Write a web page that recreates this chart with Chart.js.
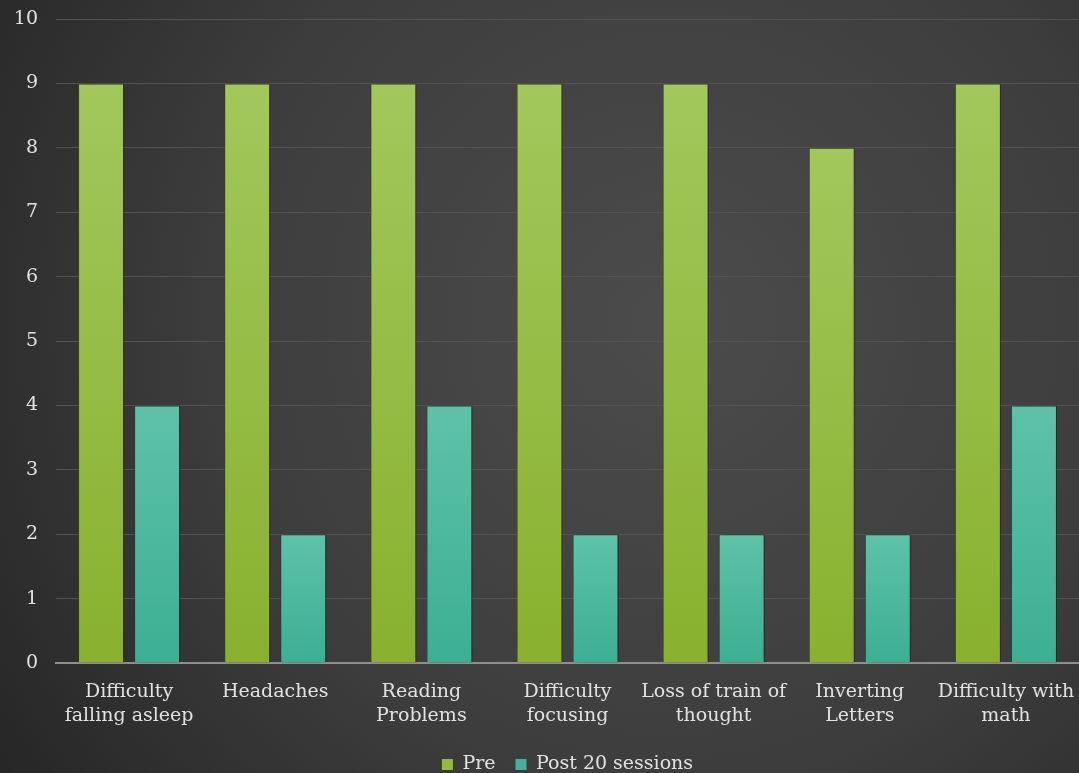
<!DOCTYPE html>
<html>
<head>
<meta charset="utf-8">
<script src="https://cdn.jsdelivr.net/npm/chart.js@4/dist/chart.umd.min.js"></script>
<style>
  html, body { margin: 0; padding: 0; background: #333; }
  #wrap { width: 1079px; height: 773px; position: relative; }
</style>
</head>
<body>
<div id="wrap"><canvas id="c" width="1079" height="773"></canvas></div>
<script>
const categories = [
  ["Difficulty", "falling asleep"],
  ["Headaches"],
  ["Reading", "Problems"],
  ["Difficulty", "focusing"],
  ["Loss of train of", "thought"],
  ["Inverting", "Letters"],
  ["Difficulty with", "math"]
];
const preValues = [9, 9, 9, 9, 9, 8, 9];
const postValues = [4, 2, 4, 2, 2, 2, 4];
const seriesNames = ["Pre", "Post 20 sessions"];
const yTicks = [0, 1, 2, 3, 4, 5, 6, 7, 8, 9, 10];

const FONT = "'DejaVu Serif', serif";
const TEXT = "#e2e2e2";

// vertical shading per bar: lighter cap, deeper base
function barGradient(ctx, top, bottom) {
  const chart = ctx.chart;
  const area = chart.chartArea;
  const ys = chart.scales && chart.scales.y;
  if (!area || !ys || ctx.raw == null) return bottom;
  const yTop = ys.getPixelForValue(ctx.raw);
  const g = chart.ctx.createLinearGradient(0, yTop, 0, area.bottom);
  g.addColorStop(0, top);
  g.addColorStop(1, bottom);
  return g;
}

// dark vignette backdrop behind the whole chart
const backdrop = {
  id: 'backdrop',
  beforeDraw(chart) {
    const { ctx, width, height } = chart;
    ctx.save();
    const g = ctx.createRadialGradient(width * 0.62, height * 0.42, 20, width * 0.62, height * 0.42, width * 0.75);
    g.addColorStop(0, '#4b4b4b');
    g.addColorStop(0.55, '#3d3d3d');
    g.addColorStop(1, '#262626');
    ctx.fillStyle = g;
    ctx.fillRect(0, 0, width, height);
    ctx.restore();
  }
};

// soft drop shadow under the bars
const barShadow = {
  id: 'barShadow',
  beforeDatasetsDraw(chart) {
    const ctx = chart.ctx;
    ctx.save();
    ctx.shadowColor = 'rgba(0,0,0,0.45)';
    ctx.shadowBlur = 4;
    ctx.shadowOffsetX = 2;
    ctx.shadowOffsetY = 0;
  },
  afterDatasetsDraw(chart) {
    chart.ctx.restore();
  }
};

new Chart(document.getElementById('c'), {
  type: 'bar',
  data: {
    labels: categories,
    datasets: [
      {
        label: seriesNames[0],
        data: preValues,
        backgroundColor: (ctx) => barGradient(ctx, '#a2c75c', '#89b12e'),
        borderColor: 'rgba(70,90,25,0.45)',
        borderWidth: { left: 1, right: 1, top: 1, bottom: 0 },
        borderSkipped: 'bottom',
        barPercentage: 0.82,
        categoryPercentage: 0.767
      },
      {
        label: seriesNames[1],
        data: postValues,
        backgroundColor: (ctx) => barGradient(ctx, '#5ec2a8', '#3caf92'),
        borderColor: 'rgba(25,80,65,0.45)',
        borderWidth: { left: 1, right: 1, top: 1, bottom: 0 },
        borderSkipped: 'bottom',
        barPercentage: 0.82,
        categoryPercentage: 0.767
      }
    ]
  },
  options: {
    responsive: false,
    animation: false,
    layout: { padding: { top: 19, right: 0, left: 0, bottom: -11 } },
    plugins: {
      legend: {
        position: 'bottom',
        fullSize: false,
        labels: {
          color: TEXT,
          font: { family: FONT, size: 19 },
          boxWidth: 11,
          boxHeight: 11,
          padding: 20,
          generateLabels(chart) {
            const cols = ['#95bb3c', '#44b298'];
            return chart.data.datasets.map((d, i) => ({
              text: d.label,
              fillStyle: cols[i],
              strokeStyle: cols[i],
              lineWidth: 0,
              fontColor: TEXT,
              datasetIndex: i,
              hidden: false
            }));
          }
        }
      },
      tooltip: { enabled: false }
    },
    scales: {
      x: {
        grid: { display: false, drawTicks: false },
        border: { display: true, color: '#8f8f8f', width: 2 },
        ticks: {
          color: TEXT,
          font: { family: FONT, size: 19, lineHeight: 1.28 },
          padding: 17,
          maxRotation: 0,
          autoSkip: false
        },
        afterFit(scale) {
          scale.height = 72;
          scale.paddingLeft = 0;
          scale.paddingRight = 0;
        }
      },
      y: {
        min: 0,
        max: 10,
        afterBuildTicks(scale) { scale.ticks = yTicks.map(v => ({ value: v })); },
        grid: { color: '#535353', lineWidth: 1, drawTicks: false },
        border: { display: false },
        ticks: {
          color: TEXT,
          font: { family: FONT, size: 19 },
          padding: 18
        },
        afterFit(scale) {
          scale.width = 56;
          scale.paddingTop = 0;
          scale.paddingBottom = 0;
        }
      }
    }
  },
  plugins: [backdrop, barShadow]
});
</script>
</body>
</html>
